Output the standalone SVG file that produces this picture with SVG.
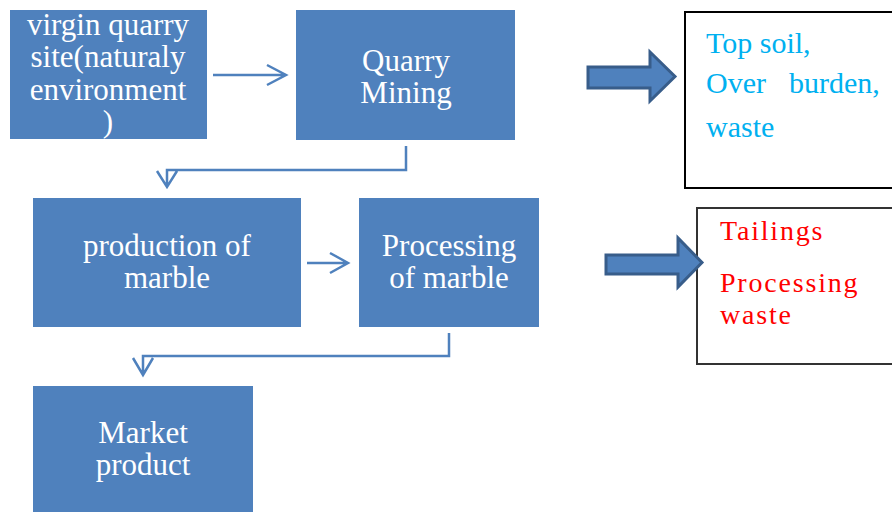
<svg xmlns="http://www.w3.org/2000/svg" width="892" height="513" viewBox="0 0 892 513">
<style>
.node rect{fill:#4f81bd}
.nt{font-family:"Liberation Serif","Times New Roman",serif;font-size:31px;fill:#ffffff;text-anchor:middle}
.conn{fill:none;stroke:#4f81bd;stroke-width:2.5}
.block{fill:#4f81bd;stroke:#385d8a;stroke-width:3;stroke-linejoin:miter}
.out1{font-family:"Liberation Serif","Times New Roman",serif;font-size:30px;fill:#00b0f0}
.out2{font-family:"Liberation Serif","Times New Roman",serif;font-size:28px;fill:#ff0000;letter-spacing:1.8px}
</style>
<rect width="892" height="513" fill="#ffffff"/>
<g id="virgin-site" class="node">
<rect x="10" y="10" width="197" height="129"/>
<text class="nt"><tspan x="108" y="35">virgin quarry</tspan><tspan x="108" y="67">site(naturaly</tspan><tspan x="108" y="99.5">environment</tspan><tspan x="108" y="131.5">)</tspan></text>
</g>
<g id="quarry-mining" class="node">
<rect x="296" y="10" width="219" height="130"/>
<text class="nt"><tspan x="406" y="71">Quarry</tspan><tspan x="406" y="103">Mining</tspan></text>
</g>
<g id="production" class="node">
<rect x="33" y="198" width="268" height="129"/>
<text class="nt"><tspan x="167" y="256">production of</tspan><tspan x="167" y="288">marble</tspan></text>
</g>
<g id="processing" class="node">
<rect x="359" y="198" width="180" height="129"/>
<text class="nt"><tspan x="449" y="256">Processing</tspan><tspan x="449" y="288">of marble</tspan></text>
</g>
<g id="market" class="node">
<rect x="33" y="386" width="220" height="126"/>
<text class="nt"><tspan x="143" y="443">Market</tspan><tspan x="143" y="475">product</tspan></text>
</g>
<g id="waste1">
<rect x="685" y="12" width="220" height="176" fill="#ffffff" stroke="#000000" stroke-width="2"/>
<text class="out1"><tspan x="706" y="53">Top soil,</tspan><tspan x="706" y="93">Over</tspan><tspan x="789" y="93">burden,</tspan><tspan x="706" y="137">waste</tspan></text>
</g>
<g id="waste2">
<rect x="697" y="208" width="220" height="156" fill="#ffffff" stroke="#333333" stroke-width="2"/>
<text class="out2"><tspan x="720" y="240">Tailings</tspan><tspan x="720" y="292">Processing</tspan><tspan x="720" y="324">waste</tspan></text>
</g>
<g id="connectors">
<path class="conn" d="M213,75 H285 M267,65 L286,75 L267,85"/>
<path class="conn" d="M406,146 V170 H167 V186 M157,171 L167,187 L177,171"/>
<path class="conn" d="M307,263 H347 M330,253 L348,263 L330,273"/>
<path class="conn" d="M449,333 V356 H143 V374 M133,358 L143,375 L153,358"/>
<path class="block" d="M588,67 H650 V52 L675,76.5 L650,101 V88 H588 Z"/>
<path class="block" d="M606,255 H678 V238 L702,262.5 L678,287 V274 H606 Z"/>
</g>
</svg>
